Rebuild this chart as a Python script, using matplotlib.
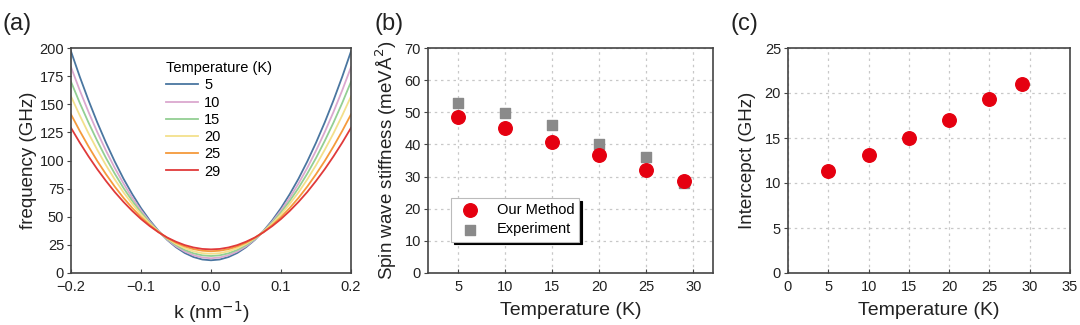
import numpy as np
import matplotlib
matplotlib.use('Agg')
from matplotlib import pyplot as plt

plt.rcParams['font.family'] = ['Liberation Sans', 'DejaVu Sans']

# (a) dispersion curves, read at k = 0 ... 0.2 (curves are symmetric in k)
k_half = [0.0, 0.0125, 0.025, 0.0375, 0.05, 0.0625, 0.075, 0.0875, 0.1,
          0.1125, 0.125, 0.1375, 0.15, 0.1625, 0.175, 0.1875, 0.2]
temps = [5, 10, 15, 20, 25, 29]
freq_half = {
    5:  [11.3, 12.0, 14.2, 17.8, 22.9, 29.4, 37.4, 46.8, 57.7,
         70.1, 83.8, 99.1, 115.8, 133.9, 153.5, 174.5, 197.0],
    10: [13.1, 13.8, 15.8, 19.1, 23.7, 29.7, 37.0, 45.6, 55.6,
         66.9, 79.5, 93.4, 108.7, 125.3, 143.2, 162.4, 183.0],
    15: [15.1, 15.7, 17.5, 20.5, 24.8, 30.2, 36.9, 44.7, 53.8,
         64.1, 75.6, 88.3, 102.2, 117.4, 133.7, 151.2, 170.0],
    20: [17.1, 17.6, 19.3, 22.0, 25.8, 30.8, 36.8, 43.9, 52.1,
         61.4, 71.7, 83.2, 95.8, 109.5, 124.2, 140.1, 157.0],
    25: [19.3, 19.8, 21.2, 23.6, 26.9, 31.2, 36.4, 42.6, 49.7,
         57.8, 66.8, 76.8, 87.8, 99.6, 112.5, 126.3, 141.0],
    29: [21.0, 21.4, 22.7, 24.8, 27.8, 31.5, 36.2, 41.7, 48.0,
         55.2, 63.2, 72.0, 81.8, 92.3, 103.7, 115.9, 129.0],
}
curve_colors = ['#4a76a0', '#dba8cf', '#93cf93', '#f3e08c', '#f59a3c', '#e03a3a']

# (b) spin wave stiffness
T_pts = [5, 10, 15, 20, 25, 29]
stiff_ours = [48.5, 45.0, 40.9, 36.8, 32.1, 28.6]
stiff_exp = [53.0, 49.9, 46.0, 40.0, 36.1, 27.9]

# (c) intercept
intercept = [11.3, 13.1, 15.0, 17.05, 19.3, 21.05]

axis_col = '#444444'
txt_col = '#222222'
red = '#e50010'
gray = '#8a8a8a'

fig = plt.figure(figsize=(10.8, 3.25), dpi=100)
ax1 = fig.add_axes([71/1080, 1-273/325, 280/1080, 225/325])
ax2 = fig.add_axes([428/1080, 1-273/325, 285/1080, 225/325])
ax3 = fig.add_axes([788/1080, 1-273/325, 282/1080, 225/325])

for ax in (ax1, ax2, ax3):
    for s in ax.spines.values():
        s.set_color(axis_col)
        s.set_linewidth(1.2)
    ax.tick_params(axis='x', direction='in', length=3, color=axis_col,
                   labelsize=10.5, labelcolor=txt_col, pad=5)
    ax.tick_params(axis='y', direction='out', length=3, color=axis_col,
                   labelsize=10.5, labelcolor=txt_col, pad=2)

# ---- (a)
k_half = np.array(k_half)
k_full = np.concatenate([-k_half[::-1], k_half[1:]])
for T, c in zip(temps, curve_colors):
    f = np.array(freq_half[T])
    f_full = np.concatenate([f[::-1], f[1:]])
    ax1.plot(k_full, f_full, color=c, lw=1.3, label=str(T))
ax1.set_xlim(-0.2, 0.2)
ax1.set_ylim(0, 200)
ax1.set_xticks([-0.2, -0.1, 0.0, 0.1, 0.2])
ax1.set_xticklabels(['\u22120.2', '\u22120.1', '0.0', '0.1', '0.2'])
ax1.set_yticks(range(0, 201, 25))
ax1.set_xlabel('k (nm$^{-1}$)', fontsize=14, color=txt_col, labelpad=4)
ax1.set_ylabel('frequency (GHz)', fontsize=13.5, color=txt_col, labelpad=2)
leg = ax1.legend(title='Temperature (K)', loc='upper center', bbox_to_anchor=(0.53, 0.98),
                 frameon=False, fontsize=10.5, title_fontsize=10.5,
                 handlelength=2.2, labelspacing=0.22, borderaxespad=0.2, handletextpad=0.4)
leg._legend_box.align = 'left'

# ---- (b)
ax2.grid(True, ls=(0, (2, 3)), color='#c8c8c8', lw=0.9)
ax2.set_axisbelow(True)
ax2.scatter(T_pts, stiff_exp, marker='s', s=58, color=gray, zorder=3, label='Experiment')
ax2.scatter(T_pts, stiff_ours, marker='o', s=95, color=red, zorder=4, label='Our Method')
ax2.set_xlim(1.8, 32.1)
ax2.set_ylim(0, 70)
ax2.set_xticks([5, 10, 15, 20, 25, 30])
ax2.set_yticks(range(0, 71, 10))
ax2.set_xlabel('Temperature (K)', fontsize=14, color=txt_col, labelpad=6)
ax2.set_ylabel('Spin wave stiffness (meV\u00c5$^2$)', fontsize=13.5, color=txt_col, labelpad=4)
h, l = ax2.get_legend_handles_labels()
leg2 = ax2.legend(h[::-1], l[::-1], loc='lower left', bbox_to_anchor=(0.08, 0.14),
                  fontsize=10.5, fancybox=False, edgecolor='#bbbbbb', framealpha=1,
                  shadow={'color': 'black', 'alpha': 1}, borderpad=0.35,
                  labelspacing=0.35, handletextpad=0.8, borderaxespad=0.0)
leg2.get_frame().set_linewidth(0.8)

# ---- (c)
ax3.grid(True, ls=(0, (2, 3)), color='#c8c8c8', lw=0.9)
ax3.set_axisbelow(True)
ax3.scatter(T_pts, intercept, marker='o', s=95, color=red, zorder=4)
ax3.set_xlim(0, 35)
ax3.set_ylim(0, 25)
ax3.set_xticks(range(0, 36, 5))
ax3.set_yticks(range(0, 26, 5))
ax3.set_xlabel('Temperature (K)', fontsize=14, color=txt_col, labelpad=6)
ax3.set_ylabel('Intercepct (GHz)', fontsize=13.5, color=txt_col, labelpad=6)

fig.text(3/1080, 1-30/325, '(a)', fontsize=17, color=txt_col)
fig.text(375/1080, 1-30/325, '(b)', fontsize=17, color=txt_col)
fig.text(731/1080, 1-30/325, '(c)', fontsize=17, color=txt_col)

fig.savefig('out.png', dpi=100)
